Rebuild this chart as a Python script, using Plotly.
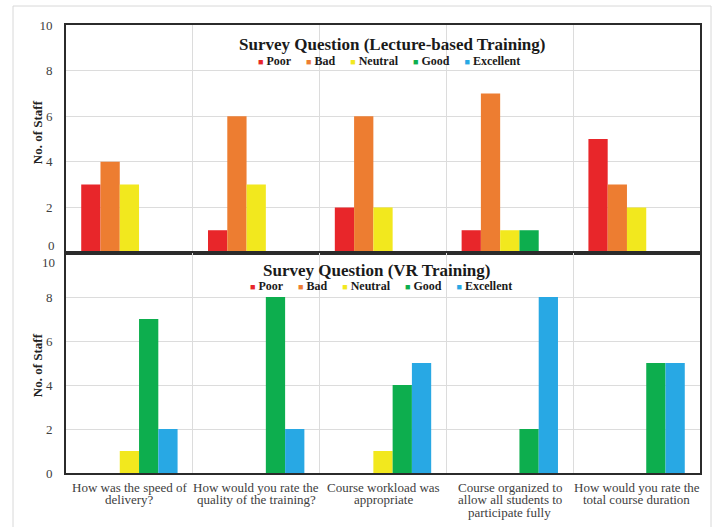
import plotly.graph_objects as go

# Survey questions (x-axis categories)
questions = [
    "How was the speed of<br>delivery?",
    "How would you rate the<br>quality of the training?",
    "Course workload was<br>appropriate",
    "Course organized to<br>allow all students to<br>participate fully",
    "How would you rate the<br>total course duration",
]

ratings = ["Poor", "Bad", "Neutral", "Good", "Excellent"]
rating_colors = ["#E8262A", "#ED7D31", "#F2E81E", "#0DAE4E", "#28A8E4"]

# Number of staff per rating, one list per question
lecture_poor = [3, 1, 2, 1, 5]
lecture_bad = [4, 6, 6, 7, 3]
lecture_neutral = [3, 3, 2, 1, 2]
lecture_good = [0, 0, 0, 1, 0]
lecture_excellent = [0, 0, 0, 0, 0]

vr_poor = [0, 0, 0, 0, 0]
vr_bad = [0, 0, 0, 0, 0]
vr_neutral = [1, 0, 1, 0, 0]
vr_good = [7, 8, 4, 2, 5]
vr_excellent = [2, 2, 5, 8, 5]

y_ticks = [0, 2, 4, 6, 8, 10]

lecture = [lecture_poor, lecture_bad, lecture_neutral, lecture_good, lecture_excellent]
vr = [vr_poor, vr_bad, vr_neutral, vr_good, vr_excellent]

SERIF = "Liberation Serif, Times New Roman, serif"
GRID = "#DCDCDC"
AXIS = "#2B2B2B"
TEXT = "#404040"

x_pos = list(range(len(questions)))

fig = go.Figure()
for name, color, vals in zip(ratings, rating_colors, lecture):
    fig.add_trace(go.Bar(x=x_pos, y=vals, name=name, marker=dict(color=color, line=dict(width=0)),
                         xaxis="x", yaxis="y", showlegend=False))
for name, color, vals in zip(ratings, rating_colors, vr):
    fig.add_trace(go.Bar(x=x_pos, y=vals, name=name, marker=dict(color=color, line=dict(width=0)),
                         xaxis="x2", yaxis="y2", showlegend=False))

common_x = dict(
    range=[-0.5, len(questions) - 0.5], automargin=False,
    showgrid=False, zeroline=False, showticklabels=False, tickvals=x_pos,
    showline=True, mirror=True, linecolor=AXIS, linewidth=2,
    minor=dict(tickmode="array", tickvals=[i + 0.5 for i in range(len(questions) - 1)],
               showgrid=True, gridcolor=GRID, gridwidth=1, ticks=""),
)
common_y = dict(
    range=[0, 10], zeroline=False, automargin=False,
    showgrid=True, gridcolor=GRID, gridwidth=1,
    showline=True, mirror=True, linecolor=AXIS, linewidth=2,
    tickfont=dict(family=SERIF, size=13, color=TEXT),
    ticks="outside", ticklen=9, tickcolor="rgba(0,0,0,0)",
)

top_dom = [0.491, 1.0]
bot_dom = [0.0, 0.491]

fig.update_layout(
    width=718, height=527,
    margin=dict(l=66, r=18, t=25, b=54, autoexpand=False),
    paper_bgcolor="white", plot_bgcolor="white",
    barmode="group", bargap=0.24, bargroupgap=0,
    xaxis=dict(common_x, domain=[0, 1], anchor="y"),
    yaxis=dict(common_y, domain=top_dom, anchor="x",
               tickvals=y_ticks[1:], ticktext=[str(v) for v in y_ticks[1:]]),
    xaxis2=dict(common_x, domain=[0, 1], anchor="y2"),
    yaxis2=dict(common_y, domain=bot_dom, anchor="x2",
                tickvals=y_ticks[:-1], ticktext=[str(v) for v in y_ticks[:-1]]),
    showlegend=False,
)


def legend_text():
    parts = []
    for name, color in zip(ratings, rating_colors):
        parts.append(f"<span style='color:{color};font-size:9px'>■</span>&nbsp;{name}")
    return "&nbsp;&nbsp;&nbsp;&nbsp;&nbsp;".join(parts)


title_font = dict(family=SERIF, size=17, color="#1a1a1a")
legend_font = dict(family=SERIF, size=12, color="#1a1a1a")
axis_title_font = dict(family=SERIF, size=13, color="#222")
tick_font = dict(family=SERIF, size=13, color=TEXT)
px_x = lambda px: (px - 66) / 634  # pixel column -> paper x

annotations = [
    # panel titles and rating keys
    dict(text="<b>Survey Question (Lecture-based Training)</b>", x=px_x(392), y=10, xref="paper", yref="y",
         yshift=-19, showarrow=False, font=title_font),
    dict(text="<b>" + legend_text() + "</b>", x=px_x(389), y=10, xref="paper", yref="y",
         yshift=-36, showarrow=False, font=legend_font),
    dict(text="<b>Survey Question (VR Training)</b>", x=px_x(376), y=10, xref="paper", yref="y2",
         yshift=-17, showarrow=False, font=title_font),
    dict(text="<b>" + legend_text() + "</b>", x=px_x(381), y=10, xref="paper", yref="y2",
         yshift=-33, showarrow=False, font=legend_font),
    # y-axis titles
    dict(text="<b>No. of Staff</b>", x=px_x(37), y=5.3, xref="paper", yref="y", textangle=-90,
         xanchor="center", yanchor="middle", showarrow=False, font=axis_title_font),
    dict(text="<b>No. of Staff</b>", x=px_x(37), y=4.9, xref="paper", yref="y2", textangle=-90,
         xanchor="center", yanchor="middle", showarrow=False, font=axis_title_font),
    # axis end labels that sit where the two panels meet
    dict(text=str(y_ticks[0]), x=0, y=y_ticks[0], xref="paper", yref="y", xanchor="right", xshift=-9,
         yshift=8, showarrow=False, font=tick_font),
    dict(text=str(y_ticks[-1]), x=0, y=y_ticks[-1], xref="paper", yref="y2", xanchor="right", xshift=-9,
         yshift=-9, showarrow=False, font=tick_font),
]

# category labels under the lower panel, set line by line with tight leading
for i, q in enumerate(questions):
    for k, line in enumerate(q.split("<br>")):
        annotations.append(dict(text=line, x=i, y=0, xref="x2", yref="y2", xanchor="center",
                                yanchor="middle", yshift=-(14 + 12.7 * k), showarrow=False,
                                font=tick_font))

fig.update_layout(annotations=annotations)

# light outer frame around the whole figure
fig.add_shape(type="rect", xref="paper", yref="paper",
              x0=px_x(13), x1=px_x(711), y0=(473 - 540) / 448, y1=(473 - 6) / 448,
              line=dict(color="#D8D8D8", width=1), fillcolor="rgba(0,0,0,0)", layer="below")

fig.write_html("out.html")
